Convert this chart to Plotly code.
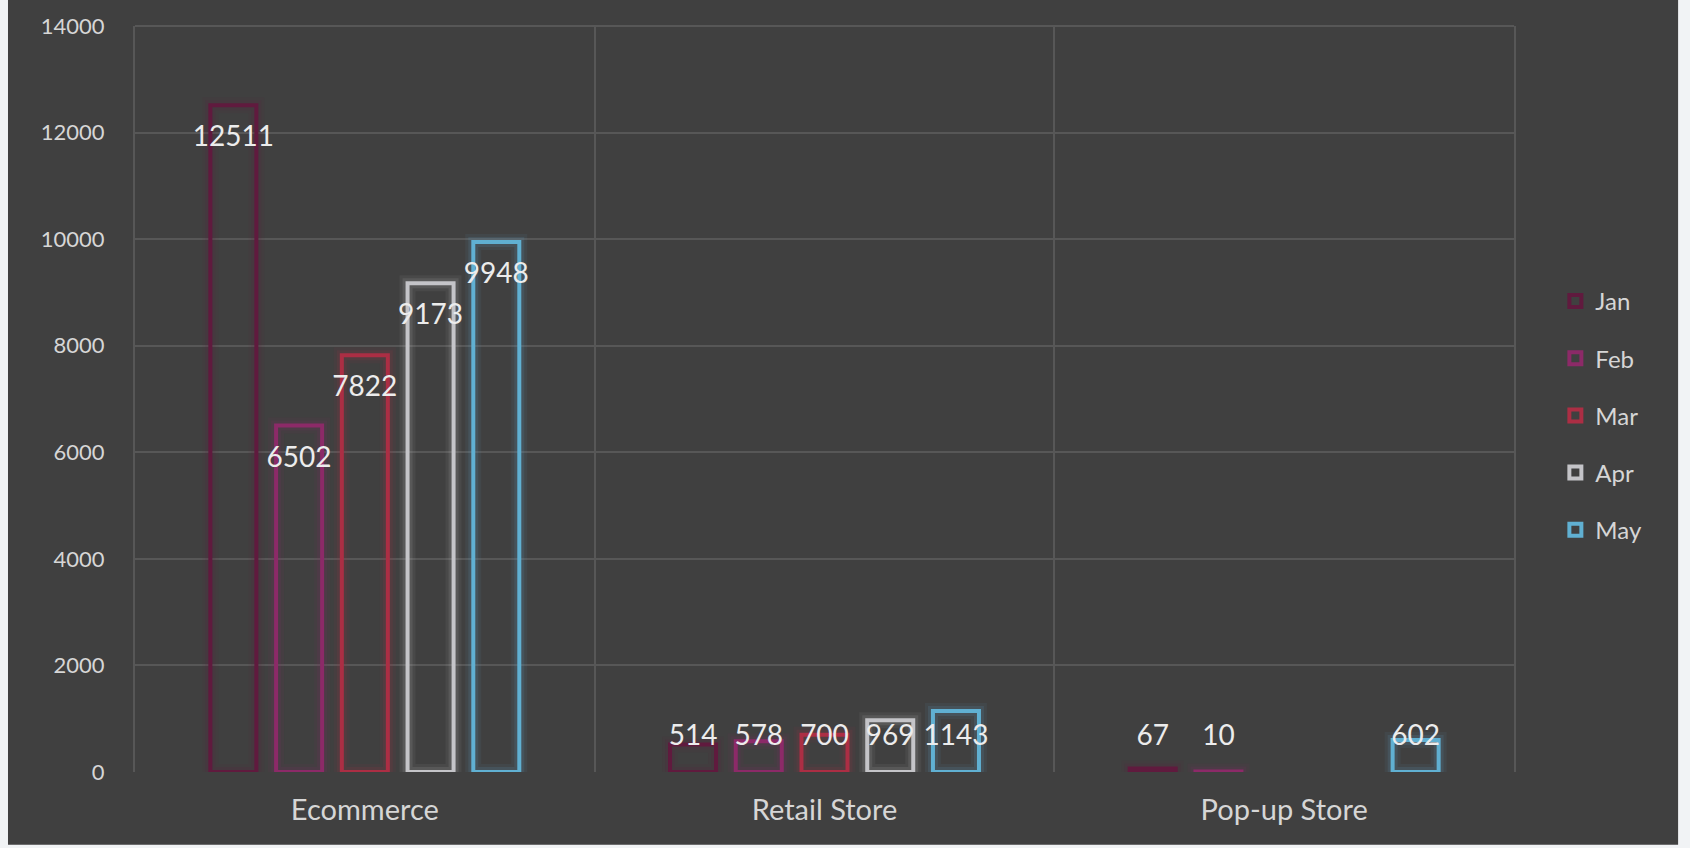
import plotly.graph_objects as go

# Sales by channel, January to May
channels = ["Ecommerce", "Retail Store", "Pop-up Store"]
months = ["Jan", "Feb", "Mar", "Apr", "May"]

jan = [12511, 514, 67]
feb = [6502, 578, 10]
mar = [7822, 700, None]
apr = [9173, 969, None]
may = [9948, 1143, 602]

series = dict(zip(months, [jan, feb, mar, apr, may]))

colors = {
    "Jan": (96, 26, 62),
    "Feb": (140, 42, 104),
    "Mar": (172, 46, 68),
    "Apr": (196, 196, 200),
    "May": (96, 176, 210),
}

FONT = "Lato, 'Open Sans', sans-serif"
BG = "#404040"
GRID = "#575757"
LABEL_PAD = 640  # keeps value labels just inside the top of each bar

fig = go.Figure()

for m in months:
    r, g, b = colors[m]
    vals = series[m]
    # soft halo around each outlined bar
    for w, a in [(16, 0.07), (10, 0.12)]:
        fig.add_trace(go.Bar(
            x=channels, y=vals, offsetgroup=m, legendgroup=m,
            marker=dict(color="rgba(0,0,0,0)",
                        line=dict(color=f"rgba({r},{g},{b},{a})", width=w)),
            showlegend=False, hoverinfo="skip",
        ))
    fig.add_trace(go.Bar(
        x=channels, y=vals, name=m, offsetgroup=m, legendgroup=m,
        marker=dict(color="rgba(0,0,0,0)",
                    line=dict(color=f"rgb({r},{g},{b})", width=4)),
    ))

# value labels, grouped alongside the bars
for m in months:
    vals = series[m]
    ys = [None if v is None else max(v - LABEL_PAD, LABEL_PAD) for v in vals]
    fig.add_trace(go.Scatter(
        x=channels, y=ys, mode="text", offsetgroup=m, legendgroup=m,
        text=["" if v is None else str(v) for v in vals],
        textposition="middle center",
        textfont=dict(family=FONT, size=28, color="#ececec"),
        showlegend=False, hoverinfo="skip",
    ))

fig.update_layout(
    width=1690, height=848, autosize=False,
    margin=dict(l=135, r=176, t=20, b=76),
    paper_bgcolor="#f1f3f5",
    plot_bgcolor=BG,
    barmode="group", bargap=0.285, bargroupgap=0.3,
    scattermode="group", scattergap=0.285,
    font=dict(family=FONT, color="#d6d6d6"),
    legend=dict(
        x=1.03, xanchor="left", y=0.478, yanchor="middle",
        font=dict(family=FONT, size=24, color="#d6d6d6"),
        bgcolor="rgba(0,0,0,0)", tracegroupgap=23,
        itemwidth=30,
    ),
    shapes=[
        dict(type="rect", xref="paper", yref="paper",
             x0=-0.0921, x1=1.119, y0=-0.0976, y1=1.04,
             fillcolor=BG, line=dict(width=0), layer="below"),
        # top gridline at the axis maximum
        dict(type="line", xref="paper", yref="paper",
             x0=0, x1=1, y0=1, y1=1,
             line=dict(color=GRID, width=2), layer="below"),
    ],
)

fig.update_xaxes(
    type="category", tickson="boundaries", showgrid=True,
    gridcolor=GRID, gridwidth=2, ticks="", showline=False, zeroline=False,
    tickfont=dict(family=FONT, size=29, color="#d6d6d6"),
    ticklabelstandoff=18,
)
fig.update_yaxes(
    range=[0, 14000], dtick=2000, tickformat="d", showgrid=True,
    gridcolor=GRID, gridwidth=2, zeroline=False,
    showline=True, mirror=True, linecolor=GRID, linewidth=2,
    tickfont=dict(family=FONT, size=22, color="#d6d6d6"),
    ticklabelstandoff=24,
)

fig.write_html("out.html")
